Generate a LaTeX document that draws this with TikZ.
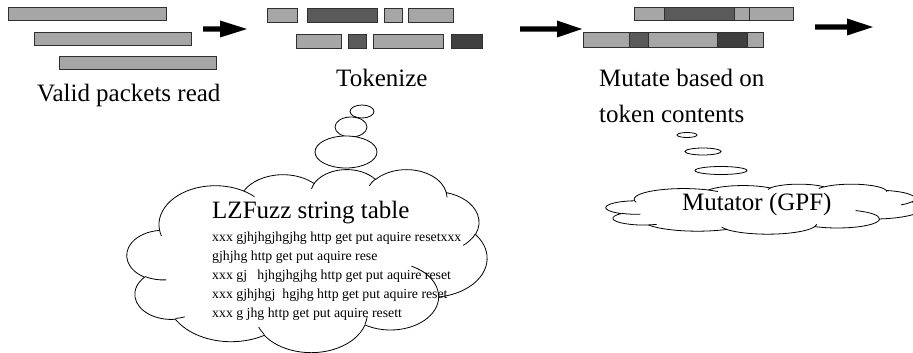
\documentclass[tikz,border=0pt]{standalone}
\usepackage{fontspec}
\setmainfont{Liberation Serif}
\definecolor{tokLight}{HTML}{A6A6A6}
\definecolor{tokDark}{HTML}{5A5A5A}
\definecolor{tokDarker}{HTML}{404040}
\definecolor{edgeGray}{HTML}{303030}
\tikzset{
  lightbar/.style={fill=tokLight, draw=edgeGray, line width=0.9pt},
  darkbar/.style={fill=tokDark, draw=edgeGray, line width=0.9pt},
  darkerbar/.style={fill=tokDarker, draw=edgeGray, line width=0.9pt},
  bigtext/.style={font=\fontsize{25}{30}\selectfont, inner sep=0pt, anchor=base west},
  smalltext/.style={font=\fontsize{13.8}{16}\selectfont, inner sep=0pt, anchor=base west},
  flowarrow/.style={fill=black, draw=none},
  cloudline/.style={draw=black, line width=0.8pt, line join=round},
  bubble/.style={draw=black, line width=0.8pt, fill=white}
}
% fat block arrow: x-start, x-head, x-tip, y
\newcommand{\fatarrow}[4]{%
  \fill[flowarrow] (#1,#4-2.6) -- (#2,#4-2.6) -- (#2,#4-8.5) -- (#3,#4)
    -- (#2,#4+8.5) -- (#2,#4+2.6) -- (#1,#4+2.6) -- cycle;}
% elliptic arc given by radii (thousandths of the unit box 43.2) and
% visual start angle / sweep in degrees
\newcommand{\ooarc}[4]{%
  arc[x radius={#1/43.2}, y radius={#2/43.2},
      start angle={atan2(#1*sin(#3), #2*cos(#3))},
      delta angle={mod(atan2(#1*sin(#3+#4), #2*cos(#3+#4))
                   - atan2(#1*sin(#3), #2*cos(#3)) + 720, 360)}]}
% thought cloud filling the box with top-left corner (#1,#2), size #3 x #4
\newcommand{\thoughtcloud}[4]{%
  \begin{scope}[shift={(#1,#2)}, x=#3pt, y=-#4pt]
    \filldraw[cloudline, fill=white] ({3.900/43.2},{14.370/43.2})
      \ooarc{6.753}{9.190}{-190.48748}{123.78053}
      \ooarc{5.333}{7.267}{-144.10238}{89.94523}
      \ooarc{4.365}{5.945}{-145.80792}{99.72302}
      \ooarc{4.857}{6.595}{-130.98607}{117.24173}
      \ooarc{5.333}{7.273}{-78.70888}{109.02692}
      \ooarc{6.775}{9.220}{-46.26725}{130.26900}
      \ooarc{5.785}{7.867}{0.62502}{114.03333}
      \ooarc{6.752}{9.215}{22.45160}{115.17255}
      \ooarc{7.720}{10.543}{66.24263}{75.71102}
      \ooarc{4.360}{5.918}{-274.94208}{146.73557}
      \ooarc{4.345}{5.945}{-246.82850}{152.51885}
      -- cycle;
    \draw[cloudline]
      ({4.693/43.2},{26.177/43.2}) \ooarc{4.345}{5.945}{86.74200}{26.42950}
      ({6.928/43.2},{34.899/43.2}) \ooarc{4.360}{5.918}{73.61047}{11.44747}
      ({16.478/43.2},{39.090/43.2}) \ooarc{6.752}{9.215}{137.62415}{14.08110}
      ({28.827/43.2},{34.751/43.2}) \ooarc{6.752}{9.215}{6.45327}{15.99835}
      ({34.129/43.2},{22.954/43.2}) \ooarc{5.785}{7.867}{-70.29235}{70.91737}
      ({41.798/43.2},{15.354/43.2}) \ooarc{5.333}{7.273}{30.31803}{27.75150}
      ({38.324/43.2},{5.426/43.2}) \ooarc{4.857}{6.595}{-13.74433}{14.85890}
      ({29.078/43.2},{3.952/43.2}) \ooarc{4.857}{6.595}{-149.18145}{18.19537}
      ({22.141/43.2},{4.720/43.2}) \ooarc{4.365}{5.945}{-163.49427}{17.68635}
      ({14.000/43.2},{5.192/43.2}) \ooarc{6.753}{9.190}{-66.70695}{12.31935}
      ({4.127/43.2},{15.789/43.2}) \ooarc{6.753}{9.190}{157.65435}{11.85817};
  \end{scope}}
\begin{document}
\begin{tikzpicture}[x=1pt, y=-1pt]
\useasboundingbox (0,0) rectangle (913,353);
\clip (0,0) rectangle (913,353);

% incoming packets
\draw[lightbar] (8,7) rectangle (166,20);
\draw[lightbar] (34,32) rectangle (191,45);
\draw[lightbar] (59,56) rectangle (216,69);
\node[bigtext] (valid) at (37,102) {Valid packets read};

\fatarrow{203}{220}{247}{29}

% tokens
\draw[lightbar] (267,8) rectangle (297,22);
\draw[darkbar] (307,8) rectangle (377,22);
\draw[lightbar] (384,8) rectangle (402,22);
\draw[lightbar] (408,8) rectangle (453,22);
\draw[lightbar] (296,34) rectangle (341,48);
\draw[darkbar] (348,34) rectangle (366,48);
\draw[lightbar] (373,34) rectangle (443,48);
\draw[darkerbar] (451,34) rectangle (482,48);
\node[bigtext] (tokenize) at (336,87) {Tokenize};

\fatarrow{520}{557}{582}{29}

% mutated packets
\draw[lightbar] (634,7) rectangle (664,20);
\draw[darkbar] (664,7) rectangle (734,20);
\draw[lightbar] (734,7) rectangle (749,20);
\draw[lightbar] (749,7) rectangle (793,20);
\draw[lightbar] (583,32) rectangle (629,47);
\draw[darkbar] (629,32) rectangle (648,47);
\draw[lightbar] (648,32) rectangle (717,47);
\draw[darkerbar] (717,32) rectangle (747,47);
\draw[lightbar] (747,32) rectangle (763,47);
\node[bigtext] (mutate1) at (599,87) {Mutate based on};
\node[bigtext] (mutate2) at (599,122) {token contents};

\fatarrow{815}{847}{873}{27}

% string table thought
\draw[bubble] (362,111.5) ellipse [x radius=12, y radius=6.5];
\draw[bubble] (351,127) ellipse [x radius=16, y radius=10];
\draw[bubble] (346,152) ellipse [x radius=31, y radius=16];
\thoughtcloud{127}{169}{360}{183}
\node[bigtext] (lztitle) at (212,218) {LZFuzz string table};
\node[smalltext] (l1) at (212,241) {xxx gjhjhgjhgjhg http get put aquire resetxxx};
\node[smalltext] (l2) at (212,260) {gjhjhg http get put aquire rese};
\node[smalltext] (l3) at (212,279) {xxx gj\ \ \ hjhgjhgjhg http get put aquire reset};
\node[smalltext] (l4) at (212,298) {xxx gjhjhgj\ \ hgjhg http get put aquire reset};
\node[smalltext] (l5) at (212,317) {xxx g jhg http get put aquire resett};

% mutator thought
\draw[bubble] (687,135) ellipse [x radius=10, y radius=2.5];
\draw[bubble] (703,151.5) ellipse [x radius=18, y radius=3.5];
\draw[bubble] (721,170.5) ellipse [x radius=26, y radius=4];
\thoughtcloud{606}{184}{316}{50}
\node[bigtext] (mutator) at (682,210) {Mutator (GPF)};
\end{tikzpicture}
\end{document}
